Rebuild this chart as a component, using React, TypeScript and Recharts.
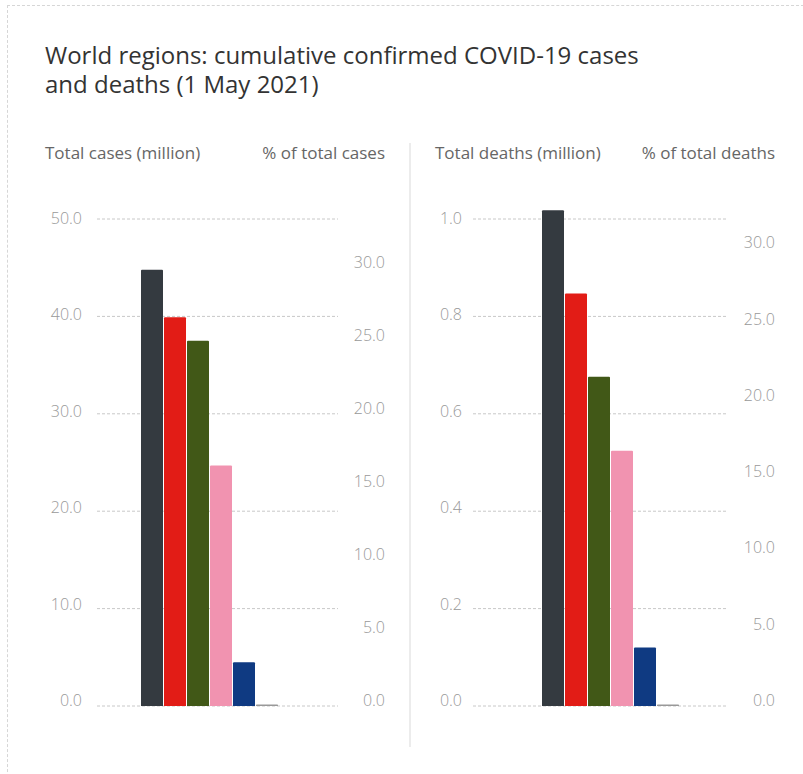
import React from 'react';
import { BarChart, Bar, XAxis, YAxis, CartesianGrid } from 'recharts';

const CASES_REGIONS = ['Europe', 'Asia', 'North America', 'South America', 'Africa', 'Oceania'];
const CASES_VALUES = [44.8, 39.9, 37.5, 24.7, 4.5, 0.15];
const CASES_TICKS = [0, 10, 20, 30, 40, 50];
const CASES_PCT_TICKS = [0, 5, 10, 15, 20, 25, 30];

const DEATHS_REGIONS = ['Europe', 'North America', 'South America', 'Asia', 'Africa', 'Oceania'];
const DEATHS_VALUES = [1.018, 0.847, 0.676, 0.524, 0.12, 0.003];
const DEATHS_TICKS = [0, 0.2, 0.4, 0.6, 0.8, 1.0];
const DEATHS_PCT_TICKS = [0, 5, 10, 15, 20, 25, 30];

const BAR_COLORS = ['#343a40', '#e21c16', '#415817', '#f193b0', '#0f3a82', '#999999'];

const FONT = '"Open Sans", Lato, sans-serif';
const TICK_COLOR = '#999999';

// baseline of both panels and height of the gridded area
const ZERO_Y = 706;
const GRID_H = 487;

function toRow(regions: string[], values: number[]) {
  const row: Record<string, number | string> = { name: 'all' };
  regions.forEach((r, i) => {
    row[r] = values[i];
  });
  return [row];
}

function makeTick(anchorX: number) {
  return (props: any) => {
    // labels sit a little above their gridline, more so near the bottom
    const dy = -6 + (5 * (ZERO_Y - props.y)) / GRID_H;
    return (
      <text
        x={anchorX}
        y={props.y + dy}
        textAnchor="end"
        dominantBaseline="central"
        fill={TICK_COLOR}
        fontSize={16}
        fontFamily={FONT}
        fontWeight={300}
      >
        {Number(props.payload.value).toFixed(1)}
      </text>
    );
  };
}

type PanelProps = {
  regions: string[];
  values: number[];
  ticks: number[];
  pctTicks: number[];
  leftMax: number;
  rightMax: number;
  marginLeft: number;
  marginRight: number;
  padLeft: number;
  padRight: number;
  leftLabelX: number;
  rightLabelX: number;
};

function Panel(p: PanelProps) {
  const topTick = p.ticks[p.ticks.length - 1];
  const top = ZERO_Y - Math.round((GRID_H * p.leftMax) / topTick);
  const plotH = ZERO_Y - top;
  // gridlines only at the left-axis ticks
  const gridYs = p.ticks.map((t) => ZERO_Y - (plotH * t) / p.leftMax);
  return (
    <div style={{ position: 'absolute', left: 0, top: 0 }}>
      <BarChart
        width={803}
        height={774}
        data={toRow(p.regions, p.values)}
        margin={{ top, bottom: 774 - ZERO_Y, left: p.marginLeft, right: p.marginRight }}
        barCategoryGap={0}
        barGap={1}
      >
        <CartesianGrid
          vertical={false}
          stroke="#c8c8c8"
          strokeDasharray="3 2"
          horizontalCoordinatesGenerator={() => gridYs}
        />
        <XAxis dataKey="name" hide padding={{ left: p.padLeft, right: p.padRight }} />
        <YAxis
          yAxisId="left"
          orientation="left"
          width={60}
          domain={[0, p.leftMax]}
          ticks={p.ticks}
          axisLine={false}
          tickLine={false}
          tick={makeTick(p.leftLabelX)}
          interval={0}
          allowDataOverflow
        />
        <YAxis
          yAxisId="right"
          orientation="right"
          width={60}
          domain={[0, p.rightMax]}
          ticks={p.pctTicks}
          axisLine={false}
          tickLine={false}
          tick={makeTick(p.rightLabelX)}
          interval={0}
          allowDataOverflow
        />
        {p.regions.map((r, i) => (
          <Bar
            key={r}
            dataKey={r}
            yAxisId="left"
            fill={BAR_COLORS[i]}
            radius={[1, 1, 0, 0]}
            isAnimationActive={false}
          />
        ))}
      </BarChart>
    </div>
  );
}

const axisTitle: React.CSSProperties = {
  position: 'absolute',
  fontFamily: FONT,
  fontSize: 17,
  color: '#666',
  whiteSpace: 'nowrap',
  lineHeight: '22px',
};

export default function App() {
  return (
    <div
      style={{
        position: 'absolute',
        left: 0,
        top: 0,
        width: 803,
        height: 774,
        overflow: 'hidden',
        background: '#fff',
      }}
    >
      <div
        style={{
          position: 'absolute',
          left: 7,
          top: 5,
          width: 830,
          height: 820,
          border: '1px dashed #d6d6d6',
        }}
      />
      <div
        style={{
          position: 'absolute',
          left: 45,
          top: 40,
          fontFamily: FONT,
          fontSize: 24,
          lineHeight: '29px',
          color: '#333',
          whiteSpace: 'nowrap',
        }}
      >
        <div>World regions: cumulative confirmed COVID-19 cases</div>
        <div>and deaths (1 May 2021)</div>
      </div>
      <div style={{ ...axisTitle, left: 45, top: 142 }}>Total cases (million)</div>
      <div style={{ ...axisTitle, right: 803 - 385, top: 142 }}>% of total cases</div>
      <div style={{ ...axisTitle, left: 435, top: 142 }}>Total deaths (million)</div>
      <div style={{ ...axisTitle, right: 803 - 775, top: 142 }}>% of total deaths</div>
      <div
        style={{
          position: 'absolute',
          left: 409,
          top: 143,
          width: 2,
          height: 604,
          background: '#ececec',
        }}
      />
      <Panel
        regions={CASES_REGIONS}
        values={CASES_VALUES}
        ticks={CASES_TICKS}
        pctTicks={CASES_PCT_TICKS}
        leftMax={50}
        rightMax={33.0}
        marginLeft={37}
        marginRight={803 - 338 - 60}
        padLeft={44}
        padRight={59}
        leftLabelX={82}
        rightLabelX={385}
      />
      <Panel
        regions={DEATHS_REGIONS}
        values={DEATHS_VALUES}
        ticks={DEATHS_TICKS}
        pctTicks={DEATHS_PCT_TICKS}
        leftMax={1.0185}
        rightMax={31.6 * 1.0185}
        marginLeft={473 - 60}
        marginRight={803 - 728 - 60}
        padLeft={69}
        padRight={48}
        leftLabelX={462}
        rightLabelX={775}
      />
    </div>
  );
}
